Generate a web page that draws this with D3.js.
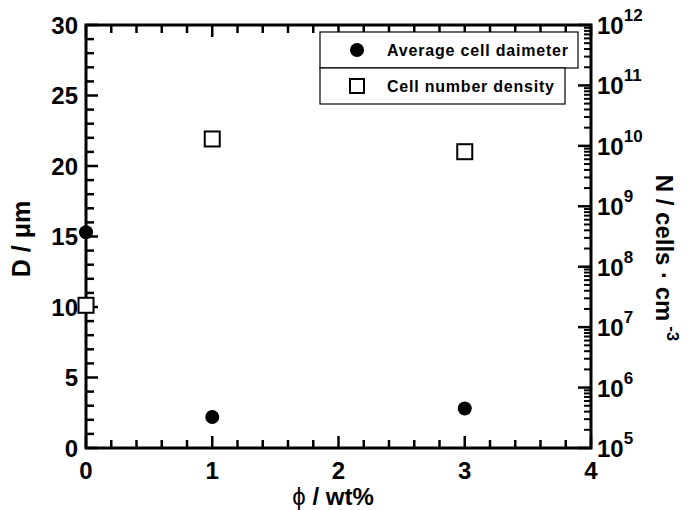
<!DOCTYPE html>
<html>
<head>
<meta charset="utf-8">
<script src="https://cdn.jsdelivr.net/npm/d3@7"></script>
<style>
  body { margin: 0; background: #fff; }
  svg text { font-family: "Liberation Sans", Arial, sans-serif; font-weight: bold; fill: #000; }
</style>
</head>
<body>
<svg id="chart" width="691" height="510"></svg>
<script>
// values
var phi = [0, 1, 3];
var diameter = [15.3, 2.2, 2.8];        // um
var density = [2.3e7, 1.3e10, 8.0e9];   // cells/cm3
var leftTicks = [0, 5, 10, 15, 20, 25, 30];
var xTicks = [0, 1, 2, 3, 4];
var rightExps = [5, 6, 7, 8, 9, 10, 11, 12];
var legendLabels = ["Average cell daimeter", "Cell number density"];

var svg = d3.select("#chart");
var box = {left: 86, right: 591, top: 25, bottom: 448};

var x = d3.scaleLinear().domain([0, 4]).range([box.left, box.right]);
var yL = d3.scaleLinear().domain([0, 30]).range([box.bottom, box.top]);
var yR = d3.scaleLog().domain([1e5, 1e12]).range([box.bottom, box.top]);

// minor tick positions
var xMinor = d3.range(0, 21).map(function(i) { return i / 5; });
var yMinor = d3.range(0, 31);
var rMinor = [];
rightExps.slice(0, -1).forEach(function(e) {
  d3.range(2, 10).forEach(function(k) { rMinor.push(k * Math.pow(10, e)); });
});
var rMajor = rightExps.map(function(e) { return Math.pow(10, e); });

// tick marks, all pointing into the plot
var tk = svg.append("g").attr("class", "ticks");
function mark(x1, y1, x2, y2, w) {
  tk.append("line").attr("x1", x1).attr("y1", y1).attr("x2", x2).attr("y2", y2)
    .style("stroke", "black").style("stroke-width", w + "px");
}
xMinor.forEach(function(v, i) {
  var len = i % 5 === 0 ? 12 : 8;
  mark(x(v), box.bottom, x(v), box.bottom - len, 2.5);
  mark(x(v), box.top, x(v), box.top + len, 2.5);
});
yMinor.forEach(function(v) {
  var len = v % 5 === 0 ? 12 : 8;
  mark(box.left, yL(v), box.left + len, yL(v), 2.5);
});
rMinor.forEach(function(v) { mark(box.right, yR(v), box.right - 7, yR(v), 2); });
rMajor.forEach(function(v) { mark(box.right, yR(v), box.right - 13, yR(v), 2.5); });

// tick labels
svg.selectAll("text.xl").data(xTicks).enter().append("text").attr("class", "xl")
  .attr("x", function(d) { return x(d); }).attr("y", 479)
  .attr("text-anchor", "middle").style("font-size", "24px").text(function(d) { return d; });
svg.selectAll("text.yl").data(leftTicks).enter().append("text").attr("class", "yl")
  .attr("x", box.left - 8).attr("y", function(d) { return yL(d) + 8.5; })
  .attr("text-anchor", "end").style("font-size", "24px").text(function(d) { return d; });
svg.selectAll("text.yr").data(rightExps).enter().append("text").attr("class", "yr")
  .attr("x", box.right + 6).attr("y", function(d) { return yR(Math.pow(10, d)) + 9; })
  .style("font-size", "24px")
  .each(function(d) {
    var t = d3.select(this);
    t.append("tspan").text("10");
    t.append("tspan").attr("dy", -13).style("font-size", "17px").text(d);
  });

// frame
svg.append("rect").attr("x", box.left).attr("y", box.top)
  .attr("width", box.right - box.left).attr("height", box.bottom - box.top)
  .attr("fill", "none").attr("stroke", "#000").attr("stroke-width", 3);

// axis titles
var xt = svg.append("text").attr("x", 333).attr("y", 505).attr("text-anchor", "middle").style("font-size", "24px");
xt.append("tspan").style("font-weight", "normal").text("\u03d5");
xt.append("tspan").text(" / wt%");
svg.append("text").attr("transform", "translate(30,239) rotate(-90)")
  .attr("text-anchor", "middle").style("font-size", "25px").text("D / \u03bcm");
var rt = svg.append("text").attr("transform", "translate(656,258) rotate(90)")
  .attr("text-anchor", "middle").style("font-size", "24px");
rt.append("tspan").text("N / cells \u00b7 cm");
rt.append("tspan").attr("dy", -11).style("font-size", "17px").text(" -3");

// diameter: filled circles
svg.selectAll("circle.dia").data(phi).enter().append("circle").attr("class", "dia")
  .attr("cx", function(d) { return x(d); })
  .attr("cy", function(d, i) { return yL(diameter[i]); })
  .attr("r", 7).attr("fill", "#000");

// density: open squares
svg.selectAll("rect.den").data(phi).enter().append("rect").attr("class", "den")
  .attr("x", function(d) { return x(d) - 7.5; })
  .attr("y", function(d, i) { return yR(density[i]) - 7.5; })
  .attr("width", 15).attr("height", 15)
  .attr("fill", "#fff").attr("stroke", "#000").attr("stroke-width", 2);

// legend
var lg = svg.append("g");
lg.append("rect").attr("x", 320).attr("y", 32).attr("width", 258).attr("height", 36)
  .attr("fill", "#fff").attr("stroke", "#000").attr("stroke-width", 1.2);
lg.append("rect").attr("x", 320).attr("y", 68).attr("width", 245).attr("height", 36)
  .attr("fill", "#fff").attr("stroke", "#000").attr("stroke-width", 1.2);
lg.append("circle").attr("cx", 357).attr("cy", 50).attr("r", 7).attr("fill", "#000");
lg.append("rect").attr("x", 350).attr("y", 79).attr("width", 14).attr("height", 14)
  .attr("fill", "#fff").attr("stroke", "#000").attr("stroke-width", 2);
lg.append("text").attr("x", 387).attr("y", 56).attr("textLength", 181).style("font-size", "16px").text(legendLabels[0]);
lg.append("text").attr("x", 387).attr("y", 92).attr("textLength", 167).style("font-size", "16px").text(legendLabels[1]);
</script>
</body>
</html>
